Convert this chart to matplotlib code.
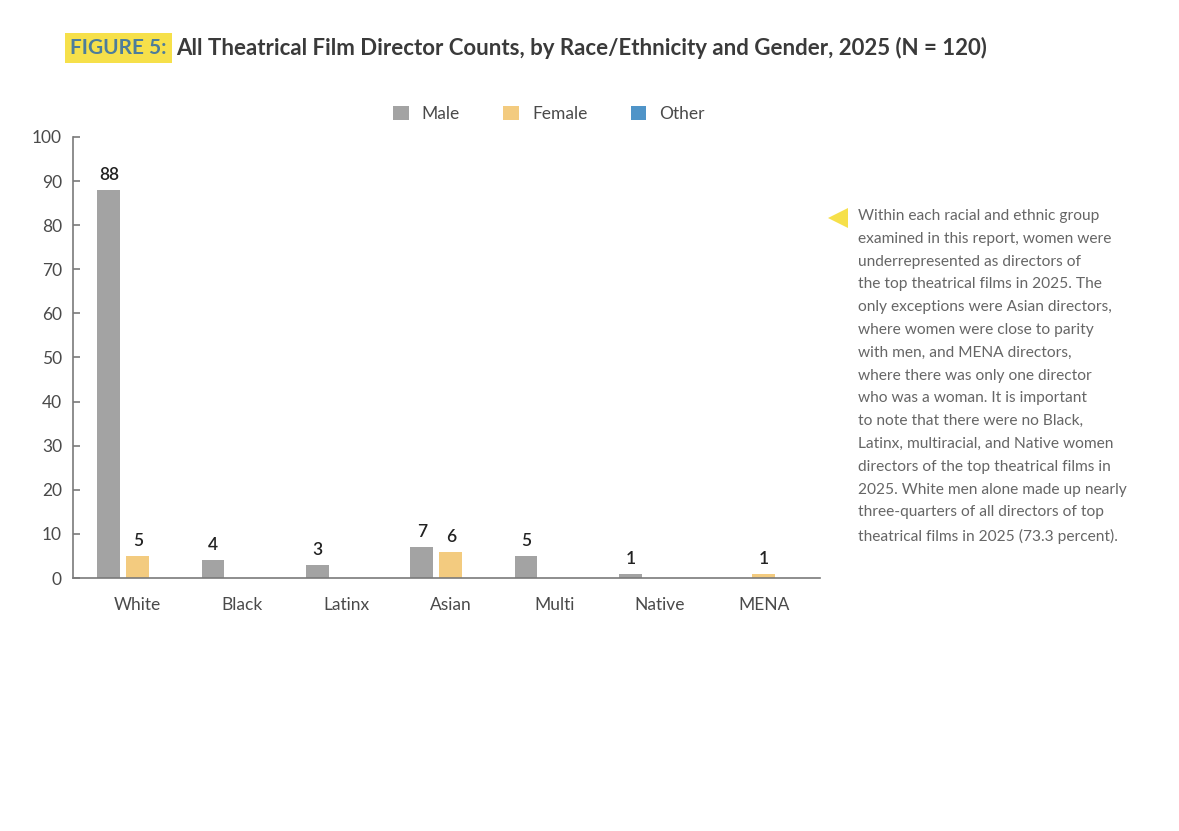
import numpy as np
import matplotlib.pyplot as plt
from matplotlib.patches import Polygon

plt.rcParams['font.family'] = ['Lato', 'DejaVu Sans']

groups = ["White", "Black", "Latinx", "Asian", "Multi", "Native", "MENA"]
male = [88, 4, 3, 7, 5, 1, 0]
female = [5, 0, 0, 6, 0, 0, 1]
other = [0, 0, 0, 0, 0, 0, 0]

series_names = ["Male", "Female", "Other"]
colors = ["#a3a3a3", "#f3cb7f", "#4f94c8"]

title_tag = "FIGURE 5:"
title_rest = "All Theatrical Film Director Counts, by Race/Ethnicity and Gender, 2025 (N = 120)"

note = ("Within each racial and ethnic group\n"
        "examined in this report, women were\n"
        "underrepresented as directors of\n"
        "the top theatrical films in 2025. The\n"
        "only exceptions were Asian directors,\n"
        "where women were close to parity\n"
        "with men, and MENA directors,\n"
        "where there was only one director\n"
        "who was a woman. It is important\n"
        "to note that there were no Black,\n"
        "Latinx, multiracial, and Native women\n"
        "directors of the top theatrical films in\n"
        "2025. White men alone made up nearly\n"
        "three-quarters of all directors of top\n"
        "theatrical films in 2025 (73.3 percent).")

fig = plt.figure(figsize=(11.79, 8.31), dpi=100)
ax = fig.add_axes([0.062, 0.3044, 0.6335, 0.5308])

x = np.arange(len(groups))
width = 0.217
step = 0.278
for k, (vals, name, c) in enumerate(zip([male, female, other], series_names, colors)):
    pos = x + (k - 1) * step
    bars = ax.bar(pos, vals, width, color=c, label=name)
    for b, v in zip(bars, vals):
        if v > 0:
            ax.annotate(str(v), (b.get_x() + b.get_width() / 2, v),
                        xytext=(0, 5), textcoords="offset points",
                        ha="center", va="bottom", fontsize=12.5,
                        fontweight="semibold", color="#222222")

ax.set_xlim(-0.62, 6.54)
ax.set_ylim(0, 100)
ax.set_yticks(range(0, 101, 10))
ax.set_xticks(x)
ax.set_xticklabels(groups)

for s in ["top", "right"]:
    ax.spines[s].set_visible(False)
for s in ["left", "bottom"]:
    ax.spines[s].set_color("#7a7a7a")
    ax.spines[s].set_linewidth(1.2)
ax.tick_params(axis="y", direction="in", length=5, width=1.2, color="#7a7a7a",
               labelsize=12.5, labelcolor="#4a4a4a", pad=8)
ax.tick_params(axis="x", length=0, labelsize=12.5, labelcolor="#4a4a4a", pad=14)

fig.legend(loc="center", bbox_to_anchor=(549 / 1179, 1 - 114 / 831), ncol=3,
           frameon=False, fontsize=12.5, handlelength=0.9, handleheight=0.9,
           columnspacing=2.5, handletextpad=0.75, labelcolor="#4a4a4a")

# title
t1 = fig.text(70 / 1179, 1 - 48 / 831, title_tag, fontsize=15, fontweight="bold",
              color="#4d7d9b", va="center", ha="left",
              bbox=dict(boxstyle="square,pad=0.25", fc="#f6e04a", ec="none"))
fig.canvas.draw()
ax.annotate(title_rest, xy=(1, 0.5), xycoords=t1, xytext=(7, 0),
            textcoords="offset points", fontsize=16, fontweight="bold",
            color="#3a3a3a", va="center", ha="left", annotation_clip=False)

# side note
fig.text(858 / 1179, 1 - 209 / 831, note, fontsize=11.2, color="#666666",
         va="top", ha="left", linespacing=1.80)
tri = Polygon([[828 / 1179, 1 - 218 / 831], [848 / 1179, 1 - 208 / 831],
               [848 / 1179, 1 - 228 / 831]], closed=True,
              transform=fig.transFigure, fc="#f6e04a", ec="none")
fig.patches.append(tri)

fig.savefig("out.png", dpi=100)
